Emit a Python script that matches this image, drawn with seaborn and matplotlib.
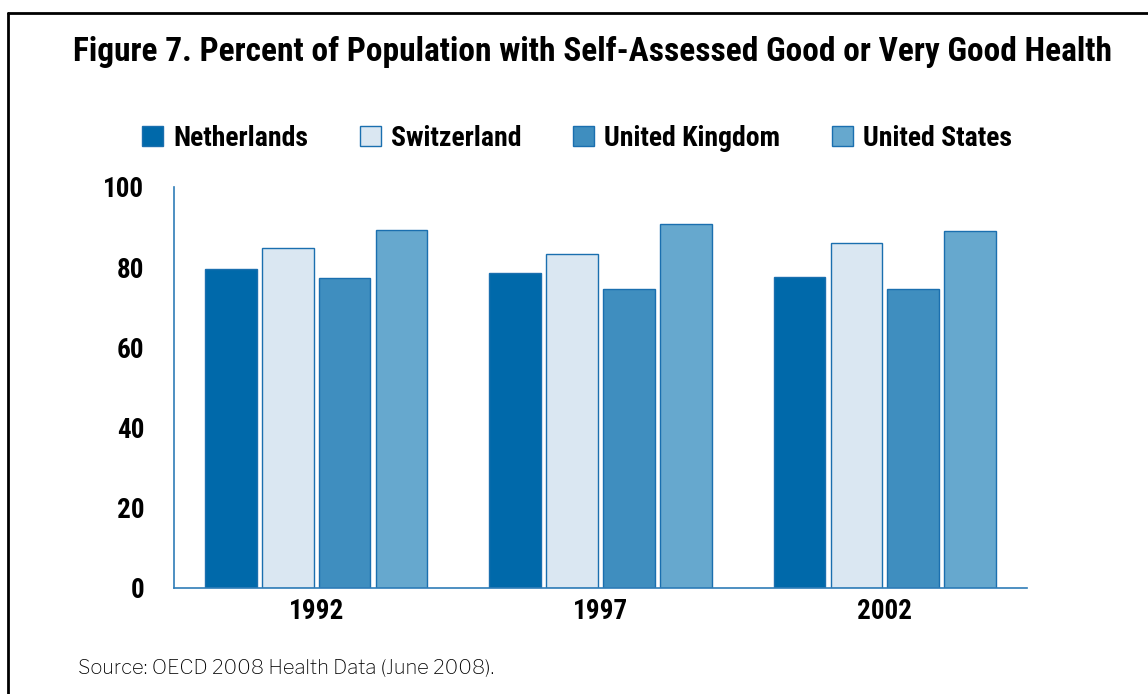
import matplotlib
matplotlib.use("Agg")
import matplotlib.pyplot as plt
from matplotlib.lines import Line2D
from matplotlib.patches import Patch
import seaborn as sns
import pandas as pd

years = ["1992", "1997", "2002"]
countries = ["Netherlands", "Switzerland", "United Kingdom", "United States"]
netherlands = [79.6, 78.6, 77.6]
switzerland = [84.8, 83.3, 86.0]
united_kingdom = [77.3, 74.6, 74.6]
united_states = [89.3, 90.8, 89.0]
yticks = [0, 20, 40, 60, 80, 100]
title = "Figure 7. Percent of Population with Self-Assessed Good or Very Good Health"
source = "Source: OECD 2008 Health Data (June 2008)."

colors = ["#0069AA", "#DAE7F2", "#3F8EBF", "#66A8CE"]
edge = "#1A6FAF"
axis_blue = "#2F7DB8"

series = [netherlands, switzerland, united_kingdom, united_states]
rows = []
for c, vals in zip(countries, series):
    for y, v in zip(years, vals):
        rows.append({"Year": y, "Country": c, "Value": v})
df = pd.DataFrame(rows)

sns.set_style("white")
cond = ["Roboto Condensed", "IBM Plex Sans Condensed", "DejaVu Sans"]
regular = ["Libre Franklin", "Liberation Sans", "DejaVu Sans"]
plt.rcParams["font.family"] = cond
plt.rcParams["text.color"] = "black"

fig = plt.figure(figsize=(11.48, 6.94), dpi=100)
ax = fig.add_axes([174 / 1148, 106 / 694, (1027 - 174) / 1148, (588 - 187) / 694])

sns.barplot(data=df, x="Year", y="Value", hue="Country", order=years,
            hue_order=countries, palette=colors, width=0.8, gap=0.09,
            edgecolor=edge, linewidth=1.0, saturation=1, ax=ax, legend=False)

ax.set_xlim(-0.5, 2.5)
ax.set_ylim(0, 100)
ax.set_yticks(yticks)
ax.set_yticklabels([str(t) for t in yticks], fontsize=19.5, fontweight="semibold",
                   family=cond, color="black")
ax.set_xticks(range(len(years)))
ax.set_xticklabels(years, fontsize=19.5, fontweight="semibold", family=cond, color="black")
ax.set_xticks([-0.5, 0.5, 1.5, 2.5], minor=True)
ax.tick_params(axis="x", which="major", length=0, pad=7)
ax.tick_params(axis="x", which="minor", length=7.2, width=1.2, color=axis_blue, direction="out")
ax.tick_params(axis="y", which="major", length=14.4, width=1.2, color=axis_blue,
               direction="out", pad=7)
ax.set_xlabel("")
ax.set_ylabel("")
for s in ["top", "right"]:
    ax.spines[s].set_visible(False)
for s in ["left", "bottom"]:
    ax.spines[s].set_color(axis_blue)
    ax.spines[s].set_linewidth(1.2)

handles = [Patch(facecolor=col, edgecolor=edge, linewidth=1.0) for col in colors]
fig.legend(handles, countries, loc="center", bbox_to_anchor=(577 / 1148, 1 - 138 / 694),
           ncol=4, frameon=False, handlelength=0.75, handleheight=0.75, handletextpad=0.36,
           columnspacing=1.87, labelcolor="black",
           prop={"family": cond, "size": 20, "weight": "semibold"})

fig.text(73 / 1148, 1 - 52 / 694, title, ha="left", va="center", fontsize=24,
         fontweight="semibold", family=cond, color="black")
fig.text(78 / 1148, 1 - 668 / 694, source, ha="left", va="center", fontsize=14.5,
         family=regular, color="black")

fig.add_artist(Line2D([8 / 1148, 1.0], [1 - 13 / 694, 1 - 13 / 694], transform=fig.transFigure,
                      color="black", linewidth=2))
fig.add_artist(Line2D([8 / 1148, 8 / 1148], [0, 1 - 13 / 694], transform=fig.transFigure,
                      color="black", linewidth=2))

fig.savefig("out.png", dpi=100)
